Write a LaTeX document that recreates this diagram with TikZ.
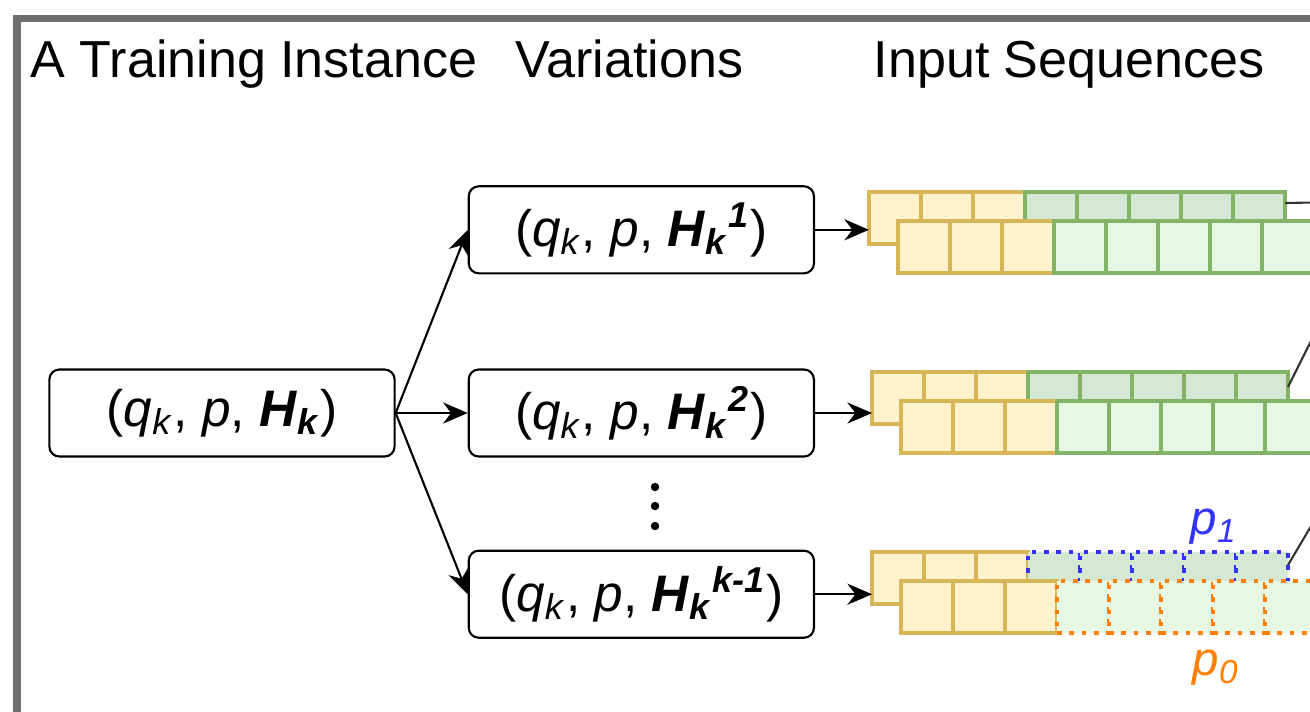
\documentclass[tikz,border=0pt]{standalone}
\usepackage{fontspec}
\setmainfont{Liberation Sans}
\usepackage{xcolor}
\usepackage{tikz}
\usetikzlibrary{arrows.meta, positioning, calc}

\definecolor{yfill}{HTML}{FFF2CC}
\definecolor{ydraw}{HTML}{D6B656}
\definecolor{gfill}{HTML}{D5E8D4}
\definecolor{gfilllt}{HTML}{E6F7E3}
\definecolor{gdraw}{HTML}{82B366}
\definecolor{pblue}{HTML}{3333FF}
\definecolor{porange}{HTML}{FF8000}
\definecolor{framegray}{HTML}{6E6E6E}

\newcommand{\qkp}{(\textit{q}\textsubscript{\textit{k}}, \textit{p}, }
\newcommand{\Hk}{\textit{H}\textsubscript{\textit{k}}}

\begin{document}
\begin{tikzpicture}[
    x=0.01cm, y=-0.01cm,
    tuple/.style={draw, rounded corners=0.1cm, minimum width=3.45cm, minimum height=0.87cm, line width=0.6pt, align=center, font=\fontsize{14.6}{16}\selectfont},
    head/.style={anchor=base west, inner sep=0pt, font=\fontsize{14.8}{17}\selectfont},
    cell/.style={minimum size=0.52cm, inner sep=0pt, outer sep=0pt, line width=0.9pt},
    ycell/.style={cell, draw=ydraw, fill=yfill},
    gcell/.style={cell, draw=gdraw, fill=gfill},
    gcelllt/.style={cell, draw=gdraw, fill=gfilllt},
    pbcell/.style={cell, draw=pblue, fill=gfill, line width=1.3pt, dash pattern=on 1.3pt off 2.2pt},
    pocell/.style={cell, draw=porange, fill=gfilllt, line width=1.3pt, dash pattern=on 1.3pt off 2.2pt},
    arr/.style={-{Stealth[length=7pt, width=6pt]}, line width=0.6pt},
    outline/.style={line width=0.6pt, black!80},
    lbl/.style={font=\fontsize{13.5}{15}\selectfont\itshape},
    node distance=0.72cm,
]
\useasboundingbox (0,0) rectangle (1310,711);
\clip (0,0) rectangle (1310,711);

% Frame
\draw[framegray, line width=0.07cm] (17,740) -- (17,18) -- (1340,18);

% Headings
\node[head] (hinst) at (30,77) {A Training Instance};
\node[head] (hvar) at (515,77) {Variations};
\node[head] (hseq) at (873,77) {Input Sequences};

% Instance and variations
\node[tuple] (inst) at (222,413) {\qkp\textbf{\Hk})};
\node[tuple, right=of inst] (var2) {\qkp\textbf{\Hk\textsuperscript{\textit{2}}})};
\node[tuple, above=0.94cm of var2] (var1) {\qkp\textbf{\Hk\textsuperscript{\textit{1}}})};
\node[tuple, below=0.92cm of var2] (var3) {\qkp\textbf{\Hk\textsuperscript{\textit{k-1}}})};

\foreach \y in {487,506,526}
  \fill (655,\y) circle (0.042cm);

\draw[arr] (inst.east) -- (var1.west);
\draw[arr] (inst.east) -- (var2.west);
\draw[arr] (inst.east) -- (var3.west);

% Input sequences
\foreach \r/\bx/\by/\gb/\gf in {1/869/192/gcell/gcelllt, 2/872/372/gcell/gcelllt, 3/872/552/pbcell/pocell} {
  \foreach \i in {1,2,3}
    \node[ycell] (b\r\i) at (\bx+26+52*\i-52, \by+26) {};
  \foreach \i in {4,...,8}
    \node[\gb] (b\r\i) at (\bx+26+52*\i-52, \by+26) {};
  \foreach \i in {1,2,3}
    \node[ycell] (f\r\i) at (\bx+55+52*\i-52, \by+55) {};
  \foreach \i in {4,...,8}
    \node[\gf] (f\r\i) at (\bx+55+52*\i-52, \by+55) {};
  \draw[arr] (var\r.east) -- (var\r.east -| b\r1.west);
}

\node[lbl, text=pblue] (plab1) at (1214,527) {p\textsubscript{1}};
\node[lbl, text=porange] (plab0) at (1216,668) {p\textsubscript{0}};

% Lines leaving the picture
\coordinate (out1) at (1340,202);
\coordinate (out2) at (1340,283);
\coordinate (out3) at (1340,477);
\draw[outline] ([yshift=0.15cm]b18.east) -- (out1);
\draw[outline] ([yshift=0.11cm]b28.east) -- (out2);
\draw[outline] ([yshift=0.13cm]b38.east) -- (out3);

\end{tikzpicture}
\end{document}
